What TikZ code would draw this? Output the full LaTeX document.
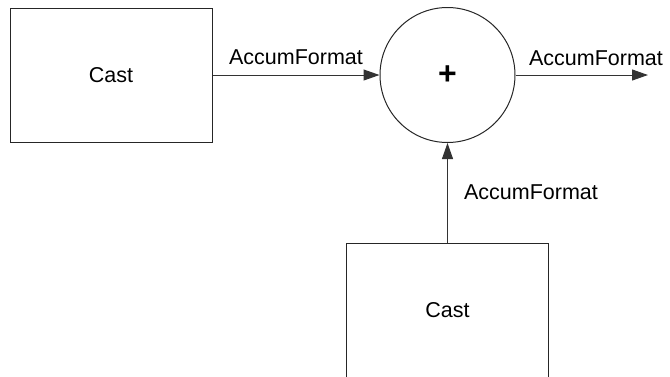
\documentclass[tikz,border=0pt]{standalone}
\usepackage{fontspec}
\setmainfont{Liberation Sans}
\usetikzlibrary{arrows.meta}
\begin{document}
\begin{tikzpicture}[x=1pt,y=-1pt,
  blockbox/.style={draw=black!85,line width=1pt,minimum width=202pt,minimum height=140pt,inner sep=0pt,font=\fontsize{21.5}{24}\selectfont},
  sumnode/.style={draw=black!85,line width=1pt,circle,minimum size=135pt,inner sep=0pt,font=\fontsize{32}{34}\selectfont\bfseries},
  lbl/.style={font=\fontsize{21.5}{24}\selectfont,inner sep=0pt},
  conn/.style={draw=black!80,line width=1pt,-{Triangle[length=16pt,width=11pt]}}]
\useasboundingbox (0,0) rectangle (670,376);
\node[blockbox,minimum height=134pt] (cast1) at (111,75) {Cast};
\node[sumnode] (sum) at (447.5,75) {+};
\node[blockbox,anchor=north] (cast2) at (447.5,243) {};
\node[lbl] (cast2t) at (447.5,310) {Cast};
\coordinate (out) at (648,75);
\draw[conn] (cast1.east) -- node[lbl,above=10pt] (l1) {AccumFormat} (sum.west);
\draw[conn] (sum.east) -- (out);
\node[lbl] (l2) at (596,58) {AccumFormat};
\draw[conn] (cast2.north) -- (sum.south);
\node[lbl] (l3) at (531,192) {AccumFormat};
\end{tikzpicture}
\end{document}
